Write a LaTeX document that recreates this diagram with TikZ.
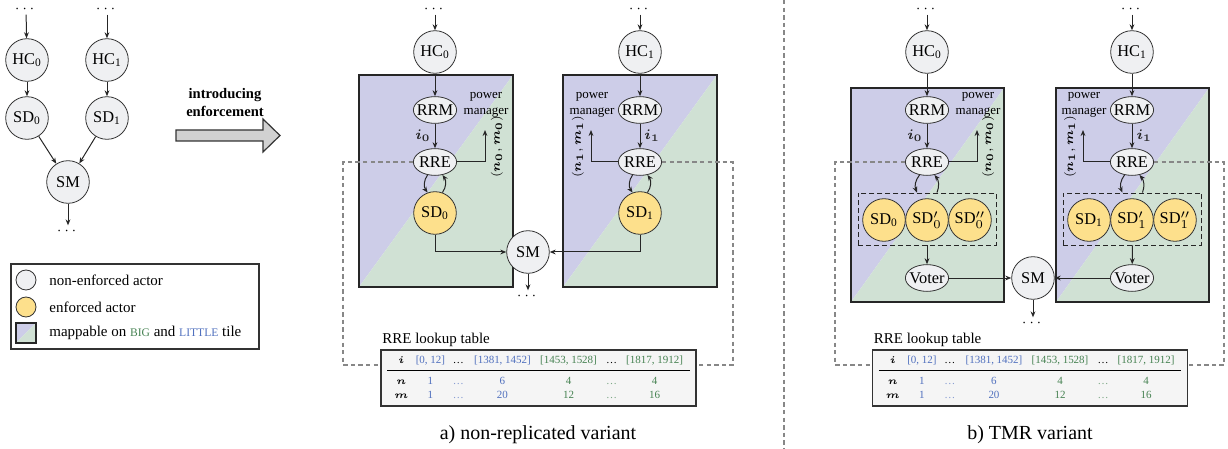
\documentclass[tikz,border=0pt]{standalone}
\usepackage{amsmath}
\usepackage{array}
\usepackage{fontspec}
\setmainfont{Liberation Serif}
\usepackage{xcolor}
\usepackage{tikz}
\usetikzlibrary{positioning,arrows.meta,shapes.geometric,calc}

\definecolor{littlec}{RGB}{205,205,232}
\definecolor{bigc}{RGB}{208,225,212}
\definecolor{actorc}{RGB}{239,240,242}
\definecolor{enfc}{RGB}{253,224,140}
\definecolor{tabc}{RGB}{245,245,245}
\definecolor{lkpc}{RGB}{135,135,135}
\definecolor{littxt}{RGB}{80,112,190}
\definecolor{bigtxt}{RGB}{70,130,82}

\newcolumntype{C}[1]{>{\centering\arraybackslash}p{#1}}
\newcommand{\lookuptable}{%
  \fontsize{5.5}{7}\selectfont\setlength{\tabcolsep}{0pt}%
  \begin{tabular}{@{}C{0.493cm}C{0.528cm}C{0.458cm}C{1.091cm}C{1.232cm}C{0.282cm}C{1.232cm}@{}}
    \rule[-2.1pt]{0pt}{5.9pt}$\boldsymbol{i}$ & \textcolor{littxt}{[0, 12]} & \dots & \textcolor{littxt}{[1381, 1452]} & \textcolor{bigtxt}{[1453, 1528]} & \dots & \textcolor{bigtxt}{[1817, 1912]}\\[1pt]
    \hline
    \rule{0pt}{6.9pt}$\boldsymbol{n}$ & \textcolor{littxt}{1} & \textcolor{littxt!70}{\dots} & \textcolor{littxt}{6} & \textcolor{bigtxt}{4} & \textcolor{bigtxt!70}{\dots} & \textcolor{bigtxt}{4}\\
    $\boldsymbol{m}$ & \textcolor{littxt}{1} & \textcolor{littxt!70}{\dots} & \textcolor{littxt}{20} & \textcolor{bigtxt}{12} & \textcolor{bigtxt!70}{\dots} & \textcolor{bigtxt}{16}
  \end{tabular}}

\begin{document}
\begin{tikzpicture}[x=0.0176cm,y=-0.0176cm,
  actor/.style={circle,draw=black!80,fill=actorc,minimum size=0.75cm,inner sep=0pt,font=\fontsize{8.2}{9}\selectfont},
  enfactor/.style={actor,fill=enfc},
  rre/.style={ellipse,draw=black!80,fill=actorc,minimum width=0.76cm,minimum height=0.47cm,inner xsep=-1.6pt,inner ysep=1pt,font=\fontsize{8.2}{9}\selectfont},
  tile/.style={draw=black!85,line width=0.6pt,path picture={
      \fill[littlec] (path picture bounding box.south west) -- (path picture bounding box.north east) -- (path picture bounding box.north west) -- cycle;
      \fill[bigc] (path picture bounding box.south west) -- (path picture bounding box.south east) -- (path picture bounding box.north east) -- cycle;}},
  repbox/.style={draw=black!85,dash pattern=on 2.5pt off 1.5pt,minimum width=2.429cm,minimum height=0.915cm},
  dotsn/.style={inner sep=1pt,font=\fontsize{7}{8}\selectfont},
  arr/.style={-{Stealth[length=3pt,width=2.4pt]},line width=0.5pt,black!85},
  lkp/.style={draw=lkpc,dash pattern=on 2.2pt off 1.6pt,line width=0.55pt},
  pm/.style={align=center,inner sep=0pt,font=\fontsize{6.5}{8}\selectfont},
  nm/.style={inner sep=0pt,font=\fontsize{6.3}{7}\selectfont},
  lab/.style={inner sep=2pt,font=\fontsize{7}{8}\selectfont},
  lut/.style={draw=black!80,line width=0.9pt,fill=tabc,inner xsep=0.114cm,inner ysep=2pt},
  ttl/.style={anchor=south west,inner sep=1pt,font=\fontsize{7.5}{9}\selectfont},
  captxt/.style={font=\fontsize{10}{12}\selectfont},
  legtxt/.style={anchor=west,inner sep=0pt,font=\fontsize{7.5}{9}\selectfont},
  enfarr/.style={draw=black!80,fill=black!18,line width=0.6pt}]
\useasboundingbox (0,0) rectangle (1228,449);

% plain dataflow graph
\node[dotsn] (dtl0) at (26,9) {$\cdots$};
\node[dotsn] (dtl1) at (107,9) {$\cdots$};
\node[actor] (hcl0) at (27,60) {HC\textsubscript{0}};
\node[actor] (hcl1) at (107,60) {HC\textsubscript{1}};
\node[actor] (sdl0) at (27,118) {SD\textsubscript{0}};
\node[actor] (sdl1) at (107,118) {SD\textsubscript{1}};
\node[actor] (sml) at (68,182) {SM};
\node[dotsn] (dtl2) at (68,231) {$\cdots$};
\draw[arr] (dtl0) -- (hcl0);
\draw[arr] (dtl1) -- (hcl1);
\draw[arr] (hcl0) -- (sdl0);
\draw[arr] (hcl1) -- (sdl1);
\draw[arr] (sdl0) -- (sml);
\draw[arr] (sdl1) -- (sml);
\draw[arr] (sml) -- (dtl2);

% legend
\node[draw=black!80,line width=0.6pt,minimum width=4.365cm,minimum height=1.496cm] (legend) at (135,306.5) {};
\node[actor,minimum size=0.352cm] (lgn) at (26,280) {};
\node[legtxt] (lgntxt) at (49,280) {non-enforced actor};
\node[enfactor,minimum size=0.352cm] (lge) at (26,307) {};
\node[legtxt] (lgetxt) at (49,307) {enforced actor};
\node[tile,minimum size=0.352cm,inner sep=0pt] (lgt) at (26,333) {};
\node[legtxt] (lgttxt) at (49,333) {mappable on \textcolor{bigtxt}{\fontsize{5.8}{7}\selectfont BIG} and \textcolor{littxt}{\fontsize{5.8}{7}\selectfont LITTLE} tile};

% introducing enforcement
\node[align=center,inner sep=0pt,font=\fontsize{7.3}{9}\selectfont\bfseries] (enft) at (225,103) {introducing\\enforcement};
\draw[enfarr] (176,130) -- (263,130) -- (263,119) -- (280,135.5) -- (263,152) -- (263,141) -- (176,141) -- cycle;

% a) non-replicated variant
\node[tile,minimum width=2.71cm,minimum height=3.731cm] (tla0) at (436,181) {};
\node[tile,minimum width=2.71cm,minimum height=3.731cm] (tla1) at (640,181) {};
\node[lut] (taba) at (538.5,378) {\lookuptable};
\node[ttl] (ttla) at (taba.north west) {RRE lookup table};
\coordinate (lka0) at (343,365);
\coordinate (lka1) at (733,365);
\node[dotsn] (dta0) at (435,9) {$\cdots$};
\node[dotsn] (dta1) at (640,9) {$\cdots$};
\node[actor] (hca0) at (435,52) {HC\textsubscript{0}};
\node[actor] (hca1) at (640,52) {HC\textsubscript{1}};
\node[rre] (rrma0) at (435,110) {RRM};
\node[rre] (rrma1) at (640,110) {RRM};
\node[rre] (rrea0) at (435,162) {RRE};
\node[rre] (rrea1) at (640,162) {RRE};
\node[enfactor] (sda0) at (435,213) {SD\textsubscript{0}};
\node[enfactor] (sda1) at (640,213) {SD\textsubscript{1}};
\node[actor] (sma) at (528,252) {SM};
\node[dotsn] (dta2) at (528,296) {$\cdots$};
\node[pm] (pma0) at (486,105) {power\\manager};
\node[pm] (pma1) at (592,105) {power\\manager};
\coordinate (pmea0) at (485,130);
\coordinate (pmea1) at (591,130);
\node[nm,rotate=90] (nma0) at (497,147) {$(\boldsymbol{n_0},\boldsymbol{m_0})$};
\node[nm,rotate=90] (nma1) at (578,147) {$(\boldsymbol{n_1},\boldsymbol{m_1})$};
\draw[lkp] (rrea0.west) -| (lka0) -- (lka0 -| taba.west);
\draw[lkp] (rrea1.east) -| (lka1) -- (lka1 -| taba.east);
\draw[arr] (dta0) -- (hca0);
\draw[arr] (dta1) -- (hca1);
\draw[arr] (hca0) -- (rrma0);
\draw[arr] (hca1) -- (rrma1);
\draw[arr] (rrma0) -- node[lab,left] (ia0) {$\boldsymbol{i_0}$} (rrea0);
\draw[arr] (rrma1) -- node[lab,right] (ia1) {$\boldsymbol{i_1}$} (rrea1);
\draw[arr] (rrea0.east) -| (pmea0);
\draw[arr] (rrea1.west) -| (pmea1);
\draw[arr] (rrea0.240) to[bend right=35] (sda0.110);
\draw[arr] (sda0.70) to[bend right=35] (rrea0.300);
\draw[arr] (rrea1.240) to[bend right=35] (sda1.110);
\draw[arr] (sda1.70) to[bend right=35] (rrea1.300);
\draw[arr] (sda0.south) |- (sma.west);
\draw[arr] (sda1.south) |- (sma.east);
\draw[arr] (sma) -- (dta2);
\node[captxt] (capa) at (538,435) {a) non-replicated variant};

% separator
\draw[lkp] (784,0) -- (784,449);

% b) TMR variant
\node[tile,minimum width=2.693cm,minimum height=3.766cm] (tlb0) at (927.5,195) {};
\node[tile,minimum width=2.693cm,minimum height=3.766cm] (tlb1) at (1132.5,195) {};
\node[lut] (tabb) at (1030,378) {\lookuptable};
\node[ttl] (ttlb) at (tabb.north west) {RRE lookup table};
\coordinate (lkb0) at (835,365);
\coordinate (lkb1) at (1224,365);
\node[dotsn] (dtb0) at (927,9) {$\cdots$};
\node[dotsn] (dtb1) at (1132,9) {$\cdots$};
\node[actor] (hcb0) at (927,52) {HC\textsubscript{0}};
\node[actor] (hcb1) at (1132,52) {HC\textsubscript{1}};
\node[rre] (rrmb0) at (927,110) {RRM};
\node[rre] (rrmb1) at (1132,110) {RRM};
\node[rre] (rreb0) at (927,162) {RRE};
\node[rre] (rreb1) at (1132,162) {RRE};
\node[repbox] (repb0) at (927,219) {};
\node[repbox] (repb1) at (1132.5,219) {};
\node[enfactor] (sdb0) at (884,220) {SD\textsubscript{0}};
\node[enfactor] (sdb0p) at (927,220) {SD$'_0$};
\node[enfactor] (sdb0pp) at (970,220) {SD$''_0$};
\node[enfactor] (sdb1) at (1089,220) {SD\textsubscript{1}};
\node[enfactor] (sdb1p) at (1132,220) {SD$'_1$};
\node[enfactor] (sdb1pp) at (1175,220) {SD$''_1$};
\node[rre] (vtb0) at (927,278) {Voter};
\node[rre] (vtb1) at (1132,278) {Voter};
\node[actor] (smb) at (1033,278) {SM};
\node[dotsn] (dtb2) at (1033,323) {$\cdots$};
\node[pm] (pmb0) at (978,105) {power\\manager};
\node[pm] (pmb1) at (1084,105) {power\\manager};
\coordinate (pmeb0) at (977,130);
\coordinate (pmeb1) at (1083,130);
\node[nm,rotate=90] (nmb0) at (988,147) {$(\boldsymbol{n_0},\boldsymbol{m_0})$};
\node[nm,rotate=90] (nmb1) at (1070,147) {$(\boldsymbol{n_1},\boldsymbol{m_1})$};
\draw[lkp] (rreb0.west) -| (lkb0) -- (lkb0 -| tabb.west);
\draw[lkp] (rreb1.east) -| (lkb1) -- (lkb1 -| tabb.east);
\draw[arr] (dtb0) -- (hcb0);
\draw[arr] (dtb1) -- (hcb1);
\draw[arr] (hcb0) -- (rrmb0);
\draw[arr] (hcb1) -- (rrmb1);
\draw[arr] (rrmb0) -- node[lab,left] (ib0) {$\boldsymbol{i_0}$} (rreb0);
\draw[arr] (rrmb1) -- node[lab,right] (ib1) {$\boldsymbol{i_1}$} (rreb1);
\draw[arr] (rreb0.east) -| (pmeb0);
\draw[arr] (rreb1.west) -| (pmeb1);
\draw[arr] (rreb0.240) to[bend right=30] ($(repb0.north)+(-10,0)$);
\draw[arr] ($(repb0.north)+(10,0)$) to[bend right=30] (rreb0.300);
\draw[arr] (rreb1.240) to[bend right=30] ($(repb1.north)+(-10,0)$);
\draw[arr] ($(repb1.north)+(10,0)$) to[bend right=30] (rreb1.300);
\draw[arr] (repb0.south) -- (vtb0);
\draw[arr] (repb1.south) -- (vtb1);
\draw[arr] (vtb0) -- (smb);
\draw[arr] (vtb1) -- (smb);
\draw[arr] (smb) -- (dtb2);
\node[captxt] (capb) at (1030,435) {b) TMR variant};
\end{tikzpicture}
\end{document}
